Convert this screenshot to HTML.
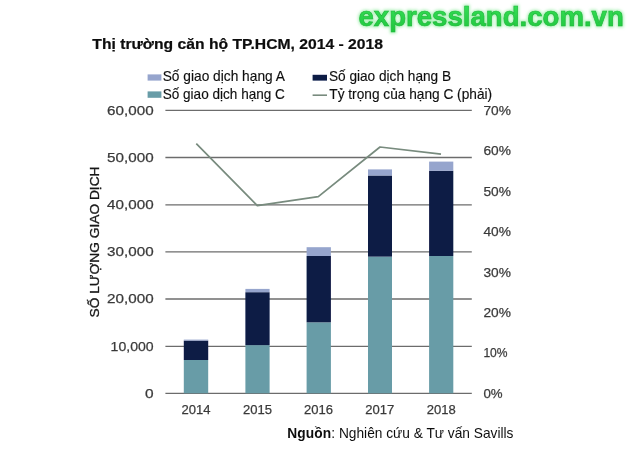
<!DOCTYPE html>
<html><head><meta charset="utf-8">
<style>
html,body{margin:0;padding:0;background:#fff;}
body{width:631px;height:450px;overflow:hidden;position:relative;font-family:"Liberation Sans",sans-serif;}
svg{position:absolute;left:0;top:0;}
text{font-family:"Liberation Sans",sans-serif;}
</style></head><body>
<svg width="631" height="450" viewBox="0 0 631 450">
<defs>
<filter id="glow" x="-10%" y="-30%" width="120%" height="160%"><feGaussianBlur stdDeviation="1.5"/></filter>
<filter id="soft" x="-5%" y="-5%" width="110%" height="110%"><feGaussianBlur stdDeviation="0.4"/></filter>
<linearGradient id="wm" x1="0" y1="0" x2="0" y2="1"><stop offset="0" stop-color="#38e25a"/><stop offset="1" stop-color="#1fc53c"/></linearGradient>
</defs>
<rect width="631" height="450" fill="#fff"/>
<g filter="url(#soft)">
<!-- gridlines -->
<g stroke="#6c6c6c" stroke-width="1.3">
<line x1="165.4" x2="471.8" y1="110.4" y2="110.4"/>
<line x1="165.4" x2="471.8" y1="157.5" y2="157.5"/>
<line x1="165.4" x2="471.8" y1="204.8" y2="204.8"/>
<line x1="165.4" x2="471.8" y1="251.9" y2="251.9"/>
<line x1="165.4" x2="471.8" y1="299" y2="299"/>
<line x1="165.4" x2="471.8" y1="346.3" y2="346.3"/>
<line x1="165.4" x2="471.8" y1="393.3" y2="393.3"/>
</g>
<!-- bars -->
<g>
<rect x="183.8" y="360" width="24.4" height="33.3" fill="#689ca7"/>
<rect x="183.8" y="340.6" width="24.4" height="19.4" fill="#0a1a44"/>
<rect x="183.8" y="339.6" width="24.4" height="1" fill="#96a5cd"/>

<rect x="245.4" y="345.1" width="24.2" height="48.2" fill="#689ca7"/>
<rect x="245.4" y="292.2" width="24.2" height="52.9" fill="#0a1a44"/>
<rect x="245.4" y="288.9" width="24.2" height="3.3" fill="#96a5cd"/>

<rect x="306.6" y="322.3" width="24.3" height="71" fill="#689ca7"/>
<rect x="306.6" y="256" width="24.3" height="66.3" fill="#0a1a44"/>
<rect x="306.6" y="247.2" width="24.3" height="8.8" fill="#96a5cd"/>

<rect x="368" y="256.6" width="24" height="136.7" fill="#689ca7"/>
<rect x="368" y="175.5" width="24" height="81.1" fill="#0a1a44"/>
<rect x="368" y="169.4" width="24" height="6.1" fill="#96a5cd"/>

<rect x="429.1" y="256" width="24.2" height="137.3" fill="#689ca7"/>
<rect x="429.1" y="170.8" width="24.2" height="85.2" fill="#0a1a44"/>
<rect x="429.1" y="161.6" width="24.2" height="9.2" fill="#96a5cd"/>
</g>
<!-- line -->
<polyline points="196.3,143.7 257.3,205.6 318.3,196.7 380,147 441,154.2" fill="none" stroke="#788b7e" stroke-width="1.7" stroke-linejoin="round"/>
<!-- legend -->
<rect x="147.6" y="74.4" width="13.8" height="6.2" fill="#96a5cd"/>
<rect x="147.6" y="91.4" width="13.8" height="6.4" fill="#689ca7"/>
<rect x="312.6" y="74.8" width="14.4" height="5.8" fill="#0a1a44"/>
<line x1="312.6" x2="327" y1="95.2" y2="95.2" stroke="#788b7e" stroke-width="1.6"/>
<g font-size="14.4" fill="#111" stroke="#111" stroke-width="0.15">
<text x="162.7" y="81.2" textLength="122.2" lengthAdjust="spacingAndGlyphs">Số giao dịch hạng A</text>
<text x="162.7" y="98.9" textLength="122.2" lengthAdjust="spacingAndGlyphs">Số giao dịch hạng C</text>
<text x="328.9" y="81.2" textLength="122.2" lengthAdjust="spacingAndGlyphs">Số giao dịch hạng B</text>
<text x="329.3" y="98.9" textLength="162.8" lengthAdjust="spacingAndGlyphs">Tỷ trọng của hạng C (phải)</text>
</g>
<!-- axis labels -->
<g font-size="13.2" fill="#3a3a3a" stroke="#3a3a3a" stroke-width="0.25" text-anchor="end">
<text x="153.6" y="114.8" textLength="46.5" lengthAdjust="spacingAndGlyphs">60,000</text>
<text x="153.6" y="161.5" textLength="46.5" lengthAdjust="spacingAndGlyphs">50,000</text>
<text x="153.6" y="209" textLength="46.5" lengthAdjust="spacingAndGlyphs">40,000</text>
<text x="153.6" y="256.3" textLength="46.5" lengthAdjust="spacingAndGlyphs">30,000</text>
<text x="153.6" y="303.4" textLength="46.5" lengthAdjust="spacingAndGlyphs">20,000</text>
<text x="153.6" y="350.6" textLength="43" lengthAdjust="spacingAndGlyphs">10,000</text>
<text x="153.6" y="397.7" textLength="8.6" lengthAdjust="spacingAndGlyphs">0</text>
</g>
<g font-size="13.2" fill="#3a3a3a" stroke="#3a3a3a" stroke-width="0.25">
<text x="483.4" y="114.7" textLength="27.5" lengthAdjust="spacingAndGlyphs">70%</text>
<text x="483.4" y="155.2" textLength="27.5" lengthAdjust="spacingAndGlyphs">60%</text>
<text x="483.4" y="195.7" textLength="27.5" lengthAdjust="spacingAndGlyphs">50%</text>
<text x="483.4" y="236.2" textLength="27.5" lengthAdjust="spacingAndGlyphs">40%</text>
<text x="483.4" y="276.6" textLength="27.5" lengthAdjust="spacingAndGlyphs">30%</text>
<text x="483.4" y="317" textLength="27.5" lengthAdjust="spacingAndGlyphs">20%</text>
<text x="483.4" y="357.4" textLength="24.2" lengthAdjust="spacingAndGlyphs">10%</text>
<text x="483.4" y="397.8" textLength="19.2" lengthAdjust="spacingAndGlyphs">0%</text>
</g>
<g font-size="13.2" fill="#3a3a3a" stroke="#3a3a3a" stroke-width="0.25" text-anchor="middle">
<text x="196" y="414.4" textLength="29" lengthAdjust="spacingAndGlyphs">2014</text>
<text x="257.5" y="414.4" textLength="29" lengthAdjust="spacingAndGlyphs">2015</text>
<text x="318.6" y="414.4" textLength="29" lengthAdjust="spacingAndGlyphs">2016</text>
<text x="379.8" y="414.4" textLength="29" lengthAdjust="spacingAndGlyphs">2017</text>
<text x="441.2" y="414.4" textLength="29" lengthAdjust="spacingAndGlyphs">2018</text>
</g>
<text transform="translate(99.4,242) rotate(-90)" font-size="13" fill="#151515" stroke="#151515" stroke-width="0.3" text-anchor="middle" textLength="151" lengthAdjust="spacingAndGlyphs">SỐ LƯỢNG GIAO DỊCH</text>
<!-- title -->
<text x="92.3" y="48.8" font-size="15.1" font-weight="bold" fill="#0c0c0c" stroke="#0c0c0c" stroke-width="0.2" textLength="290.7" lengthAdjust="spacingAndGlyphs">Thị trường căn hộ TP.HCM, 2014 - 2018</text>
<!-- source -->
<text x="287.2" y="437.9" font-size="13.72" fill="#111"><tspan font-weight="bold" letter-spacing="0.14">Nguồn</tspan>: Nghiên cứu &amp; Tư vấn Savills</text>
</g>
<!-- watermark -->
<text x="358.5" y="25.5" font-size="27" font-weight="bold" fill="#a8f0b4" stroke="#a8f0b4" stroke-width="2.6" filter="url(#glow)" textLength="265.3" lengthAdjust="spacingAndGlyphs">expressland.com.vn</text>
<text x="358.5" y="25.5" font-size="27" font-weight="bold" fill="url(#wm)" stroke="#1fb83a" stroke-width="0.6" filter="url(#soft)" textLength="265.3" lengthAdjust="spacingAndGlyphs">expressland.com.vn</text>
</svg>
</body></html>
